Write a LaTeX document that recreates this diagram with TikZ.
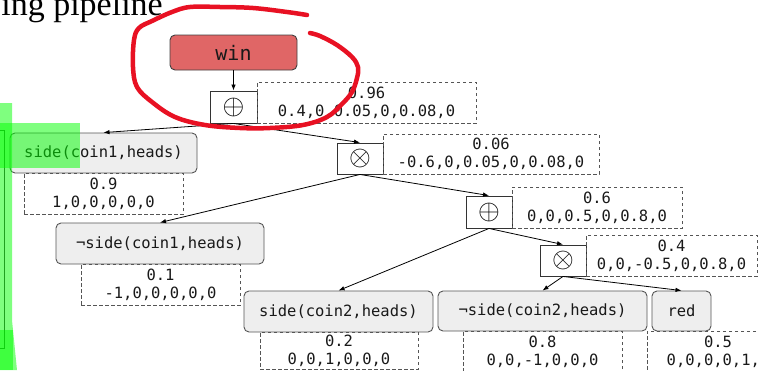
\documentclass[tikz,border=0pt]{standalone}
\usepackage{fontspec}
\newfontfamily\monofont{DejaVu Sans Mono}
\newfontfamily\titlefont{Liberation Serif}
\usetikzlibrary{arrows.meta}
\definecolor{winred}{RGB}{224,102,102}
\definecolor{boxgray}{RGB}{238,238,238}
\definecolor{edgegray}{RGB}{85,85,85}
\definecolor{penred}{RGB}{232,17,35}
\newcommand{\opsym}[1]{\scalebox{2.8}{$#1$}}
\tikzset{
  lit/.style={draw=edgegray, line width=0.9pt, rounded corners=5pt, fill=boxgray,
    inner sep=0pt, text=black!90, font=\monofont\fontsize{15.5}{18}\selectfont},
  goal/.style={lit, fill=winred, draw=black!75, font=\monofont\fontsize{20}{22}\selectfont},
  opbox/.style={draw=black!80, line width=0.9pt, fill=white, inner sep=0pt},
  valbox/.style={draw=edgegray, dash pattern=on 3.5pt off 2.5pt, line width=0.9pt,
    inner sep=0pt, align=center, text=black!90,
    font=\monofont\fontsize{15.5}{18}\selectfont},
  arr/.style={-{Latex[length=6pt,width=4.5pt]}, line width=0.8pt, black},
  marker/.style={fill=green, fill opacity=0.5, draw=none},
  pen/.style={draw=penred, line width=4.5pt, line cap=round, line join=round}
}
\begin{document}
\begin{tikzpicture}[x=1pt, y=-1pt]
\useasboundingbox (0,0) rectangle (758,370);
\clip (0,0) rectangle (758,370);

% heading fragment
\node[anchor=base east, inner sep=0pt, font=\titlefont\fontsize{34}{34}\selectfont] (title) at (163,15.5) {ing pipeline};

% edge of a box sitting to the left
\draw[black!75, line width=0.9pt] (-10,130) -- (4,130) -- (4,348) -- (-10,348);

% goal and operators
\node[goal, minimum width=127pt, minimum height=35pt] (win) at (233.5,52.5) {win};
\node[opbox, minimum width=47pt, minimum height=32pt] (op1) at (233.5,107) {\opsym{\oplus}};
\node[opbox, minimum width=46pt, minimum height=31pt] (op2) at (360,158.5) {\opsym{\otimes}};
\node[opbox, minimum width=46pt, minimum height=32pt] (op3) at (489,212) {\opsym{\oplus}};
\node[opbox, minimum width=46pt, minimum height=31pt] (op4) at (563,260.5) {\opsym{\otimes}};

% literals
\node[lit, minimum width=187pt, minimum height=40pt] (s1) at (103.5,153) {side(coin1,heads)};
\node[lit, minimum width=208pt, minimum height=41pt] (ns1) at (160,243.5) {¬side(coin1,heads)};
\node[lit, minimum width=189pt, minimum height=41pt] (s2) at (338.5,311.5) {side(coin2,heads)};
\node[lit, minimum width=209pt, minimum height=40pt] (ns2) at (542.5,311) {¬side(coin2,heads)};
\node[lit, minimum width=59pt, minimum height=40pt] (red) at (681.5,311) {red};

% values and gradients
\node[valbox, minimum width=219pt, minimum height=41pt] (v1) at (366.5,102.5) {0.96\\0.4,0,0.05,0,0.08,0};
\node[valbox, minimum width=216pt, minimum height=40pt] (v2) at (491,154) {0.06\\-0.6,0,0.05,0,0.08,0};
\node[valbox, minimum width=170pt, minimum height=41pt] (v3) at (597,207.5) {0.6\\0,0,0.5,0,0.8,0};
\node[valbox, minimum width=171pt, minimum height=41pt] (v4) at (671.5,255.5) {0.4\\0,0,-0.5,0,0.8,0};
\node[valbox, minimum width=159pt, minimum height=41pt] (vs1) at (103.5,193.5) {0.9\\1,0,0,0,0,0};
\node[valbox, minimum width=159pt, minimum height=41pt] (vns1) at (160.5,284.5) {0.1\\-1,0,0,0,0,0};
\node[valbox, minimum width=158pt, minimum height=37pt] (vs2) at (339,350.5) {0.2\\0,0,1,0,0,0};
\node[valbox, minimum width=159pt, minimum height=41pt] (vns2) at (542.5,351.5) {0.8\\0,0,-1,0,0,0};
\node[valbox, minimum width=142pt, minimum height=41pt] (vred) at (718,351.5) {0.5\\0,0,0,0,1,0};

% connectors
\draw[arr] (win.south) -- (op1.north);
\draw[arr] (op1.south) -- (s1.north);
\draw[arr] (op1.south) -- (op2.north);
\draw[arr] (op2.south) -- (ns1.north);
\draw[arr] (op2.south) -- (op3.north);
\draw[arr] (op3.south) -- (s2.north);
\draw[arr] (op3.south) -- (op4.north);
\draw[arr] (op4.south) -- (ns2.north);
\draw[arr] (op4.south) -- (red.north);

% highlighter strokes
\fill[marker] (0,103) -- (12,103) -- (12,320) -- (17,370) -- (0,370) -- cycle;
\fill[marker] (0,330) rectangle (13,370);
\fill[marker] (0,123) rectangle (80,168);

% pen loop around the goal
\draw[pen] plot[smooth, tension=0.6] coordinates {
  (307,15) (287,12) (253,8) (220,7) (190,7) (172,12) (152,21) (139,28)
  (134,40) (133,67) (137,87) (152,102) (175,117) (205,125) (240,128)
  (270,128) (303,125) (327,117) (342,104) (352,92) (357,78) (358,67)
  (352,57) (337,45) (320,36) (310,33)};
\end{tikzpicture}
\end{document}
